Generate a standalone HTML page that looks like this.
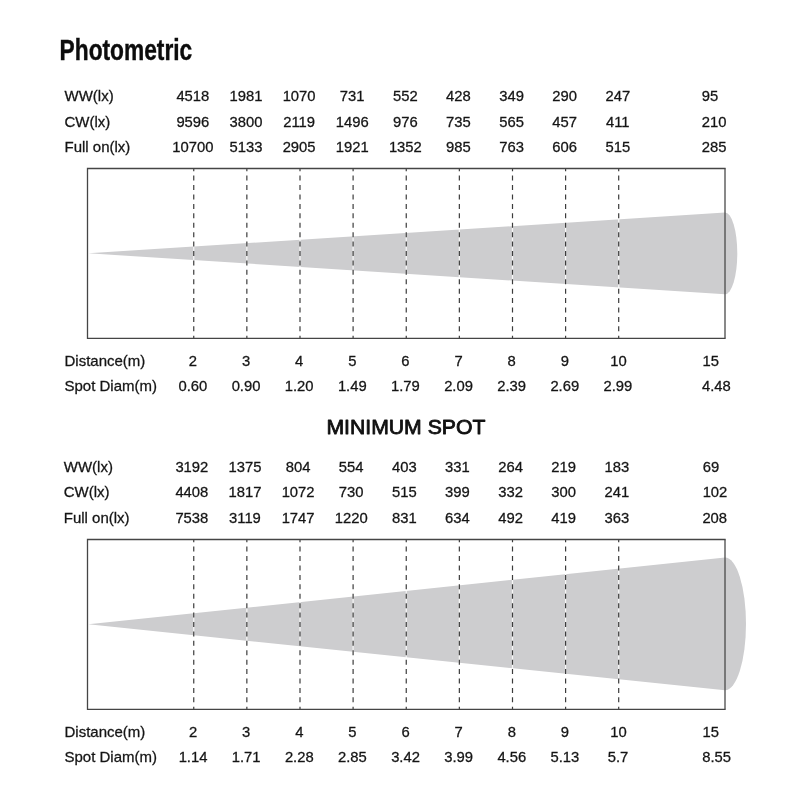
<!DOCTYPE html>
<html lang="en"><head><meta charset="utf-8"><title>Photometric</title>
<style>
html,body{margin:0;padding:0;background:#fff;}
body{width:800px;height:800px;overflow:hidden;}
svg{display:block;}
text{font-family:"Liberation Sans",Arial,Helvetica,sans-serif;fill:#151515;}
.t{font-size:15px;stroke:#151515;stroke-width:0.28px;}
.n{text-anchor:middle;font-size:14.8px;}
.m{text-anchor:middle;}
.h1{font-size:29px;font-weight:bold;fill:#0c0c0c;stroke:#0c0c0c;stroke-width:0.4px;}
.h2{font-size:21px;fill:#111;stroke:#111;stroke-width:0.85px;stroke-linejoin:round;}
</style></head>
<body>
<svg width="800" height="800" viewBox="0 0 800 800">
<rect width="800" height="800" fill="#fff"/>
<text x="59.6" y="60.3" class="h1" textLength="132.6" lengthAdjust="spacingAndGlyphs">Photometric</text>
<text x="64.5" y="100.75" class="t">WW(lx)</text>
<text x="192.85" y="100.75" class="t n">4518</text>
<text x="245.95" y="100.75" class="t n">1981</text>
<text x="299.1" y="100.75" class="t n">1070</text>
<text x="352.2" y="100.75" class="t n">731</text>
<text x="405.35" y="100.75" class="t n">552</text>
<text x="458.45" y="100.75" class="t n">428</text>
<text x="511.6" y="100.75" class="t n">349</text>
<text x="564.7" y="100.75" class="t n">290</text>
<text x="617.8" y="100.75" class="t n">247</text>
<text x="710.1" y="100.75" class="t n">95</text>
<text x="64.5" y="126.75" class="t">CW(lx)</text>
<text x="192.85" y="126.75" class="t n">9596</text>
<text x="245.95" y="126.75" class="t n">3800</text>
<text x="299.1" y="126.75" class="t n">2119</text>
<text x="352.2" y="126.75" class="t n">1496</text>
<text x="405.35" y="126.75" class="t n">976</text>
<text x="458.45" y="126.75" class="t n">735</text>
<text x="511.6" y="126.75" class="t n">565</text>
<text x="564.7" y="126.75" class="t n">457</text>
<text x="617.8" y="126.75" class="t n">411</text>
<text x="714.1" y="126.75" class="t n">210</text>
<text x="64.5" y="151.75" class="t">Full on(lx)</text>
<text x="192.85" y="151.75" class="t n">10700</text>
<text x="245.95" y="151.75" class="t n">5133</text>
<text x="299.1" y="151.75" class="t n">2905</text>
<text x="352.2" y="151.75" class="t n">1921</text>
<text x="405.35" y="151.75" class="t n">1352</text>
<text x="458.45" y="151.75" class="t n">985</text>
<text x="511.6" y="151.75" class="t n">763</text>
<text x="564.7" y="151.75" class="t n">606</text>
<text x="617.8" y="151.75" class="t n">515</text>
<text x="714.1" y="151.75" class="t n">285</text>
<path d="M88.3,253.3 L725.0,212.5 A12.3,40.900000000000006 0 0 1 725.0,294.3 Z" fill="#cdcdcf"/>
<line x1="193.75" y1="168.5" x2="193.75" y2="338.35" stroke="#fff" stroke-width="1.2" opacity="0.85"/>
<line x1="193.75" y1="168.5" x2="193.75" y2="338.35" stroke="#3c3c3c" stroke-width="1.2" stroke-dasharray="5 4.42" stroke-dashoffset="2.3"/>
<line x1="246.85" y1="168.5" x2="246.85" y2="338.35" stroke="#fff" stroke-width="1.2" opacity="0.85"/>
<line x1="246.85" y1="168.5" x2="246.85" y2="338.35" stroke="#3c3c3c" stroke-width="1.2" stroke-dasharray="5 4.42" stroke-dashoffset="2.3"/>
<line x1="300.0" y1="168.5" x2="300.0" y2="338.35" stroke="#fff" stroke-width="1.2" opacity="0.85"/>
<line x1="300.0" y1="168.5" x2="300.0" y2="338.35" stroke="#3c3c3c" stroke-width="1.2" stroke-dasharray="5 4.42" stroke-dashoffset="2.3"/>
<line x1="353.1" y1="168.5" x2="353.1" y2="338.35" stroke="#fff" stroke-width="1.2" opacity="0.85"/>
<line x1="353.1" y1="168.5" x2="353.1" y2="338.35" stroke="#3c3c3c" stroke-width="1.2" stroke-dasharray="5 4.42" stroke-dashoffset="2.3"/>
<line x1="406.25" y1="168.5" x2="406.25" y2="338.35" stroke="#fff" stroke-width="1.2" opacity="0.85"/>
<line x1="406.25" y1="168.5" x2="406.25" y2="338.35" stroke="#3c3c3c" stroke-width="1.2" stroke-dasharray="5 4.42" stroke-dashoffset="2.3"/>
<line x1="459.35" y1="168.5" x2="459.35" y2="338.35" stroke="#fff" stroke-width="1.2" opacity="0.85"/>
<line x1="459.35" y1="168.5" x2="459.35" y2="338.35" stroke="#3c3c3c" stroke-width="1.2" stroke-dasharray="5 4.42" stroke-dashoffset="2.3"/>
<line x1="512.5" y1="168.5" x2="512.5" y2="338.35" stroke="#fff" stroke-width="1.2" opacity="0.85"/>
<line x1="512.5" y1="168.5" x2="512.5" y2="338.35" stroke="#3c3c3c" stroke-width="1.2" stroke-dasharray="5 4.42" stroke-dashoffset="2.3"/>
<line x1="565.6" y1="168.5" x2="565.6" y2="338.35" stroke="#fff" stroke-width="1.2" opacity="0.85"/>
<line x1="565.6" y1="168.5" x2="565.6" y2="338.35" stroke="#3c3c3c" stroke-width="1.2" stroke-dasharray="5 4.42" stroke-dashoffset="2.3"/>
<line x1="618.7" y1="168.5" x2="618.7" y2="338.35" stroke="#fff" stroke-width="1.2" opacity="0.85"/>
<line x1="618.7" y1="168.5" x2="618.7" y2="338.35" stroke="#3c3c3c" stroke-width="1.2" stroke-dasharray="5 4.42" stroke-dashoffset="2.3"/>
<path d="M725.0,168.5 H87.5 V338.35 H725.0" fill="none" stroke="#454545" stroke-width="1.3" stroke-linecap="square"/>
<line x1="725.0" y1="168.5" x2="725.0" y2="338.35" stroke="#4a4a4a" stroke-width="1.3"/>
<text x="64.5" y="366.0" class="t">Distance(m)</text>
<text x="192.95" y="366.0" class="t n">2</text>
<text x="246.05" y="366.0" class="t n">3</text>
<text x="299.2" y="366.0" class="t n">4</text>
<text x="352.3" y="366.0" class="t n">5</text>
<text x="405.45" y="366.0" class="t n">6</text>
<text x="458.55" y="366.0" class="t n">7</text>
<text x="511.7" y="366.0" class="t n">8</text>
<text x="564.8" y="366.0" class="t n">9</text>
<text x="618.4" y="366.0" class="t n">10</text>
<text x="710.7" y="366.0" class="t n">15</text>
<text x="64.5" y="391.15" class="t">Spot Diam(m)</text>
<text x="192.95" y="391.15" class="t n">0.60</text>
<text x="246.05" y="391.15" class="t n">0.90</text>
<text x="299.2" y="391.15" class="t n">1.20</text>
<text x="352.3" y="391.15" class="t n">1.49</text>
<text x="405.45" y="391.15" class="t n">1.79</text>
<text x="458.55" y="391.15" class="t n">2.09</text>
<text x="511.7" y="391.15" class="t n">2.39</text>
<text x="564.8" y="391.15" class="t n">2.69</text>
<text x="617.9" y="391.15" class="t n">2.99</text>
<text x="716.4" y="391.15" class="t n">4.48</text>
<text x="405.9" y="433.6" class="h2 m" textLength="159" lengthAdjust="spacingAndGlyphs">MINIMUM SPOT</text>
<text x="63.75" y="471.5" class="t">WW(lx)</text>
<text x="191.85" y="471.5" class="t n">3192</text>
<text x="244.95" y="471.5" class="t n">1375</text>
<text x="298.1" y="471.5" class="t n">804</text>
<text x="351.2" y="471.5" class="t n">554</text>
<text x="404.35" y="471.5" class="t n">403</text>
<text x="457.45" y="471.5" class="t n">331</text>
<text x="510.6" y="471.5" class="t n">264</text>
<text x="563.7" y="471.5" class="t n">219</text>
<text x="616.8" y="471.5" class="t n">183</text>
<text x="711.0" y="471.5" class="t n">69</text>
<text x="63.75" y="497.0" class="t">CW(lx)</text>
<text x="191.85" y="497.0" class="t n">4408</text>
<text x="244.95" y="497.0" class="t n">1817</text>
<text x="298.1" y="497.0" class="t n">1072</text>
<text x="351.2" y="497.0" class="t n">730</text>
<text x="404.35" y="497.0" class="t n">515</text>
<text x="457.45" y="497.0" class="t n">399</text>
<text x="510.6" y="497.0" class="t n">332</text>
<text x="563.7" y="497.0" class="t n">300</text>
<text x="616.8" y="497.0" class="t n">241</text>
<text x="715.0" y="497.0" class="t n">102</text>
<text x="63.75" y="522.5" class="t">Full on(lx)</text>
<text x="191.85" y="522.5" class="t n">7538</text>
<text x="244.95" y="522.5" class="t n">3119</text>
<text x="298.1" y="522.5" class="t n">1747</text>
<text x="351.2" y="522.5" class="t n">1220</text>
<text x="404.35" y="522.5" class="t n">831</text>
<text x="457.45" y="522.5" class="t n">634</text>
<text x="510.6" y="522.5" class="t n">492</text>
<text x="563.7" y="522.5" class="t n">419</text>
<text x="616.8" y="522.5" class="t n">363</text>
<text x="714.75" y="522.5" class="t n">208</text>
<path d="M88.3,624.3 L725.0,557.5 A21,66.39999999999998 0 0 1 725.0,690.3 Z" fill="#cdcdcf"/>
<line x1="193.75" y1="539.5" x2="193.75" y2="709.35" stroke="#fff" stroke-width="1.2" opacity="0.85"/>
<line x1="193.75" y1="539.5" x2="193.75" y2="709.35" stroke="#3c3c3c" stroke-width="1.2" stroke-dasharray="5 4.42" stroke-dashoffset="2.3"/>
<line x1="246.85" y1="539.5" x2="246.85" y2="709.35" stroke="#fff" stroke-width="1.2" opacity="0.85"/>
<line x1="246.85" y1="539.5" x2="246.85" y2="709.35" stroke="#3c3c3c" stroke-width="1.2" stroke-dasharray="5 4.42" stroke-dashoffset="2.3"/>
<line x1="300.0" y1="539.5" x2="300.0" y2="709.35" stroke="#fff" stroke-width="1.2" opacity="0.85"/>
<line x1="300.0" y1="539.5" x2="300.0" y2="709.35" stroke="#3c3c3c" stroke-width="1.2" stroke-dasharray="5 4.42" stroke-dashoffset="2.3"/>
<line x1="353.1" y1="539.5" x2="353.1" y2="709.35" stroke="#fff" stroke-width="1.2" opacity="0.85"/>
<line x1="353.1" y1="539.5" x2="353.1" y2="709.35" stroke="#3c3c3c" stroke-width="1.2" stroke-dasharray="5 4.42" stroke-dashoffset="2.3"/>
<line x1="406.25" y1="539.5" x2="406.25" y2="709.35" stroke="#fff" stroke-width="1.2" opacity="0.85"/>
<line x1="406.25" y1="539.5" x2="406.25" y2="709.35" stroke="#3c3c3c" stroke-width="1.2" stroke-dasharray="5 4.42" stroke-dashoffset="2.3"/>
<line x1="459.35" y1="539.5" x2="459.35" y2="709.35" stroke="#fff" stroke-width="1.2" opacity="0.85"/>
<line x1="459.35" y1="539.5" x2="459.35" y2="709.35" stroke="#3c3c3c" stroke-width="1.2" stroke-dasharray="5 4.42" stroke-dashoffset="2.3"/>
<line x1="512.5" y1="539.5" x2="512.5" y2="709.35" stroke="#fff" stroke-width="1.2" opacity="0.85"/>
<line x1="512.5" y1="539.5" x2="512.5" y2="709.35" stroke="#3c3c3c" stroke-width="1.2" stroke-dasharray="5 4.42" stroke-dashoffset="2.3"/>
<line x1="565.6" y1="539.5" x2="565.6" y2="709.35" stroke="#fff" stroke-width="1.2" opacity="0.85"/>
<line x1="565.6" y1="539.5" x2="565.6" y2="709.35" stroke="#3c3c3c" stroke-width="1.2" stroke-dasharray="5 4.42" stroke-dashoffset="2.3"/>
<line x1="618.7" y1="539.5" x2="618.7" y2="709.35" stroke="#fff" stroke-width="1.2" opacity="0.85"/>
<line x1="618.7" y1="539.5" x2="618.7" y2="709.35" stroke="#3c3c3c" stroke-width="1.2" stroke-dasharray="5 4.42" stroke-dashoffset="2.3"/>
<path d="M725.0,539.5 H87.5 V709.35 H725.0" fill="none" stroke="#454545" stroke-width="1.3" stroke-linecap="square"/>
<line x1="725.0" y1="539.5" x2="725.0" y2="709.35" stroke="#4a4a4a" stroke-width="1.3"/>
<text x="64.5" y="736.75" class="t">Distance(m)</text>
<text x="193.05" y="736.75" class="t n">2</text>
<text x="246.15" y="736.75" class="t n">3</text>
<text x="299.3" y="736.75" class="t n">4</text>
<text x="352.4" y="736.75" class="t n">5</text>
<text x="405.55" y="736.75" class="t n">6</text>
<text x="458.65" y="736.75" class="t n">7</text>
<text x="511.8" y="736.75" class="t n">8</text>
<text x="564.9" y="736.75" class="t n">9</text>
<text x="618.4" y="736.75" class="t n">10</text>
<text x="710.8" y="736.75" class="t n">15</text>
<text x="64.5" y="761.7" class="t">Spot Diam(m)</text>
<text x="193.05" y="761.7" class="t n">1.14</text>
<text x="246.15" y="761.7" class="t n">1.71</text>
<text x="299.3" y="761.7" class="t n">2.28</text>
<text x="352.4" y="761.7" class="t n">2.85</text>
<text x="405.55" y="761.7" class="t n">3.42</text>
<text x="458.65" y="761.7" class="t n">3.99</text>
<text x="511.8" y="761.7" class="t n">4.56</text>
<text x="564.9" y="761.7" class="t n">5.13</text>
<text x="618.0" y="761.7" class="t n">5.7</text>
<text x="716.6" y="761.7" class="t n">8.55</text>
</svg>
</body></html>
